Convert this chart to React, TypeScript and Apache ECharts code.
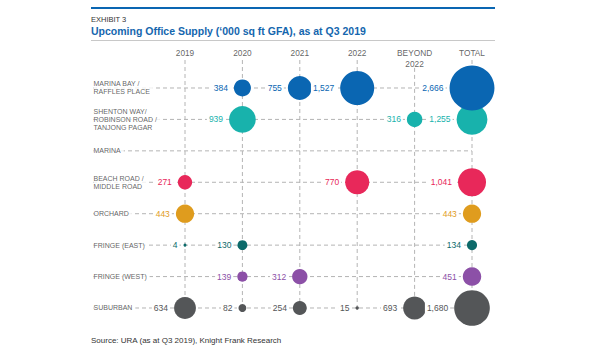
import React, { useEffect, useRef } from "react";
import * as echarts from "echarts";

const columns = ["2019", "2020", "2021", "2022", "BEYOND\n2022", "TOTAL"];
const regions = [
  "MARINA BAY /\nRAFFLES PLACE",
  "SHENTON WAY/\nROBINSON ROAD /\nTANJONG PAGAR",
  "MARINA",
  "BEACH ROAD /\nMIDDLE ROAD",
  "ORCHARD",
  "FRINGE (EAST)",
  "FRINGE (WEST)",
  "SUBURBAN",
];
const marinaBay = [null, 384, 755, 1527, null, 2666];
const shentonWay = [null, 939, null, null, 316, 1255];
const marina = [null, null, null, null, null, null];
const beachRoad = [271, null, null, 770, null, 1041];
const orchard = [443, null, null, null, null, 443];
const fringeEast = [4, 130, null, null, null, 134];
const fringeWest = [null, 139, 312, null, null, 451];
const suburban = [634, 82, 254, 15, 693, 1680];

const rows = [marinaBay, shentonWay, marina, beachRoad, orchard, fringeEast, fringeWest, suburban];
const rowColors = ["#0a66b2", "#18b2ac", "#999999", "#e8285a", "#df9c1e", "#0c6a6a", "#8c50a7", "#545658"];

const FONT = "'Liberation Sans', Arial, Helvetica, sans-serif";
const XMIN = -1.6028;
const XMAX = 5.4878;
const YMIN = -1.527;
const YMAX = 7.382;

export default function App() {
  const ref = useRef<HTMLDivElement>(null);
  useEffect(() => {
    if (!ref.current) return;
    const chart = echarts.init(ref.current, null, { renderer: "svg" });
    const dash = { color: "#b4b4b4", width: 1, type: [4, 3] as any };
    const series: any[] = [];

    // horizontal dashed guide lines
    regions.forEach((_, j) => {
      series.push({
        type: "line",
        data: [[XMIN, j], [5, j]],
        symbol: "none",
        silent: true,
        lineStyle: dash,
        z: 1,
      });
    });
    // vertical dashed guide lines
    columns.forEach((c, i) => {
      series.push({
        type: "line",
        data: [[i, c.includes("\n") ? -0.64 : -0.89], [i, regions.length - 1]],
        symbol: "none",
        silent: true,
        lineStyle: dash,
        z: 1,
      });
    });
    // bubbles
    rows.forEach((vals, j) => {
      const data = vals
        .map((v, i) => (v == null ? null : [i, j, v]))
        .filter((d) => d !== null);
      series.push({
        type: "scatter",
        data,
        z: 20 - j,
        symbolSize: (val: number[]) => Math.max(3, 0.87 * Math.sqrt(val[2])),
        itemStyle: { color: rowColors[j], opacity: 1 },
        label: {
          show: true,
          position: "left",
          distance: 4,
          formatter: (p: any) => Number(p.value[2]).toLocaleString("en-US"),
          color: rowColors[j],
          fontSize: 8.5,
          fontFamily: FONT,
          backgroundColor: "#fff",
          padding: [1, 2],
        },
      });
    });
    // row labels
    series.push({
      type: "scatter",
      data: regions.map((_, j) => [XMIN, j]),
      symbolSize: 1,
      clip: false,
      itemStyle: { color: "rgba(0,0,0,0)" },
      silent: true,
      z: 30,
      label: {
        show: true,
        position: "right",
        distance: 0,
        formatter: (p: any) => regions[p.dataIndex],
        color: "#3a3a3a",
        fontSize: 7,
        lineHeight: 8,
        fontFamily: FONT,
        backgroundColor: "#fff",
        padding: [0, 3, 0, 0],
      },
    });
    // column headers
    series.push({
      type: "scatter",
      data: columns.map((_, i) => [i, -1.3045]),
      symbolSize: 1,
      clip: false,
      itemStyle: { color: "rgba(0,0,0,0)" },
      silent: true,
      z: 30,
      label: {
        show: true,
        position: "bottom",
        distance: 0,
        formatter: (p: any) => columns[p.dataIndex],
        color: "#3a3a3a",
        fontSize: 8.3,
        lineHeight: 11,
        align: "center",
        fontFamily: FONT,
      },
    });

    chart.setOption({
      animation: false,
      grid: { left: 93, right: 100, top: 40, bottom: 40 },
      xAxis: { type: "value", min: XMIN, max: XMAX, show: false },
      yAxis: { type: "value", inverse: true, min: YMIN, max: YMAX, show: false },
      graphic: [
        { type: "rect", shape: { x: 91, y: 7, width: 404, height: 2 }, style: { fill: "#0a66b2" } },
        {
          type: "text",
          x: 91,
          y: 19,
          style: { text: "EXHIBIT 3", fontSize: 7.5, fontFamily: FONT, fill: "#333", verticalAlign: "middle" },
        },
        {
          type: "text",
          x: 91,
          y: 31,
          style: {
            text: "Upcoming Office Supply (\u2018000 sq ft GFA), as at Q3 2019",
            fontSize: 10.5,
            fontWeight: "bold",
            fontFamily: FONT,
            fill: "#1466ae",
            verticalAlign: "middle",
          },
        },
        {
          type: "line",
          shape: { x1: 91, y1: 40.5, x2: 495, y2: 40.5 },
          style: { stroke: "#c8c8c8", lineWidth: 1 },
        },
        {
          type: "text",
          x: 91,
          y: 340,
          style: {
            text: "Source: URA (as at Q3 2019), Knight Frank Research",
            fontSize: 8,
            fontFamily: FONT,
            fill: "#333",
            verticalAlign: "middle",
          },
        },
      ],
      series,
    });
    return () => chart.dispose();
  }, []);
  return (
    <div
      ref={ref}
      style={{ position: "absolute", left: 0, top: 0, width: 600, height: 360, background: "#fff" }}
    />
  );
}
